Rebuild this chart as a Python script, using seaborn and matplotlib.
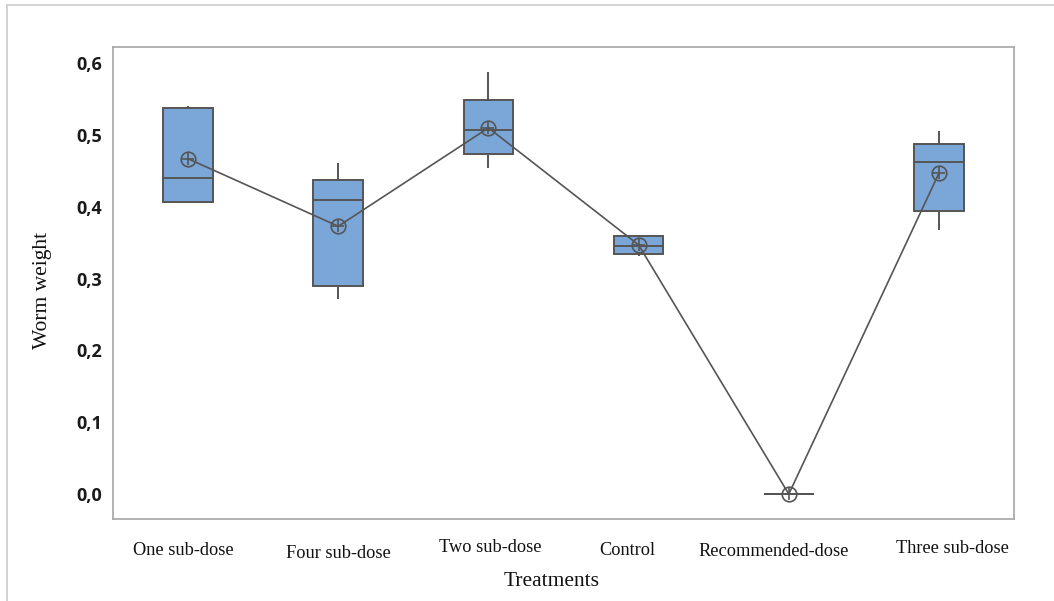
import numpy as np
import pandas as pd
import matplotlib
matplotlib.use("Agg")
import matplotlib.pyplot as plt
import matplotlib.transforms as mtransforms
from matplotlib.lines import Line2D
import seaborn as sns

sns.set_style("white")

# treatments in plot order
treatments = ["One sub-dose", "Four sub-dose", "Two sub-dose", "Control",
              "Recommended-dose", "Three sub-dose"]

# five-number summaries (min, Q1, median, Q3, max)
w_min = [0.407, 0.272, 0.454, 0.331, 0.0, 0.368]
w_q1 = [0.407, 0.290, 0.473, 0.335, 0.0, 0.394]
w_med = [0.440, 0.409, 0.507, 0.346, 0.0, 0.463]
w_q3 = [0.538, 0.438, 0.549, 0.360, 0.0, 0.488]
w_max = [0.540, 0.461, 0.588, 0.361, 0.0, 0.505]

# group means (circle-plus symbols joined by the line)
w_mean = [0.467, 0.373, 0.510, 0.347, 0.0, 0.447]

y_ticks = [0.0, 0.1, 0.2, 0.3, 0.4, 0.5, 0.6]
y_ticklabels = ["0,0", "0,1", "0,2", "0,3", "0,4", "0,5", "0,6"]

box_color = "#7BA6D8"
edge_color = "#555555"
frame_color = "#A6A6A6"

# long table: with 5 values per group the quartiles land exactly on Q1/median/Q3
rows = []
for i, t in enumerate(treatments):
    for v in (w_min[i], w_q1[i], w_med[i], w_q3[i], w_max[i]):
        rows.append({"treatment": t, "weight": v})
df = pd.DataFrame(rows)

fig = plt.figure(figsize=(10.54, 6.01), dpi=100)
ax = fig.add_axes([0.1072, 0.1364, 0.9621 - 0.1072, 0.9218 - 0.1364])

sns.boxplot(data=df, x="treatment", y="weight", order=treatments, ax=ax,
            whis=(0, 100), width=0.33, color=box_color, saturation=1,
            linecolor=edge_color, linewidth=1.4, showcaps=False, fliersize=0)

# means: open circle with a plus, joined by a line
sns.pointplot(x=treatments, y=w_mean, order=treatments, ax=ax,
              color=edge_color, markers="o", linestyles="-",
              markersize=10.5, markerfacecolor="none", markeredgewidth=1.2,
              linewidth=1.2, errorbar=None)
sns.pointplot(x=treatments, y=w_mean, order=treatments, ax=ax,
              color=edge_color, markers="+", linestyles="none",
              markersize=9, markeredgewidth=1.2, errorbar=None)

ax.set_xlim(-0.5, 5.5)
ax.set_ylim(-0.0347, 0.6226)
ax.set_yticks(y_ticks)
ax.set_yticklabels(y_ticklabels, fontfamily="Open Sans", fontweight="bold",
                   fontsize=13, color="#1a1a1a")
ax.set_xticks(range(len(treatments)))
ax.set_xticklabels(treatments, fontfamily="Liberation Serif", fontsize=13.2,
                   color="#111111")

for side, sp in ax.spines.items():
    sp.set_visible(True)
    sp.set_color(frame_color)
    sp.set_linewidth(1.2)

ax.tick_params(axis="both", direction="out", length=5, width=1,
               color=frame_color)
ax.tick_params(axis="y", pad=3)
ax.tick_params(axis="x", pad=12)

# small individual nudges of the category labels, as in the reference
nudges = [(-5, 1), (0, -2), (2, 4), (-11, 1), (-15, 0), (13, 3)]
for lab, (dx, dy) in zip(ax.get_xticklabels(), nudges):
    off = mtransforms.ScaledTranslation(dx / 100, dy / 100, fig.dpi_scale_trans)
    lab.set_transform(lab.get_transform() + off)

ax.set_xlabel("Treatments", fontfamily="Liberation Serif", fontsize=15.5,
              color="#111111")
ax.xaxis.set_label_coords(0.487, -0.112)
ax.set_ylabel("Worm weight", fontfamily="Liberation Serif", fontsize=15.5,
              color="#111111")
ax.yaxis.set_label_coords(-0.068, 0.485)

# thin outer frame of the original figure (left and top edges)
fig.add_artist(Line2D([7 / 1054, 7 / 1054], [0, 1 - 5 / 601],
                      transform=fig.transFigure, color="#CCCCCC", lw=1.2))
fig.add_artist(Line2D([7 / 1054, 1], [1 - 5 / 601, 1 - 5 / 601],
                      transform=fig.transFigure, color="#CCCCCC", lw=1.2))

fig.savefig("out.png", dpi=100)
